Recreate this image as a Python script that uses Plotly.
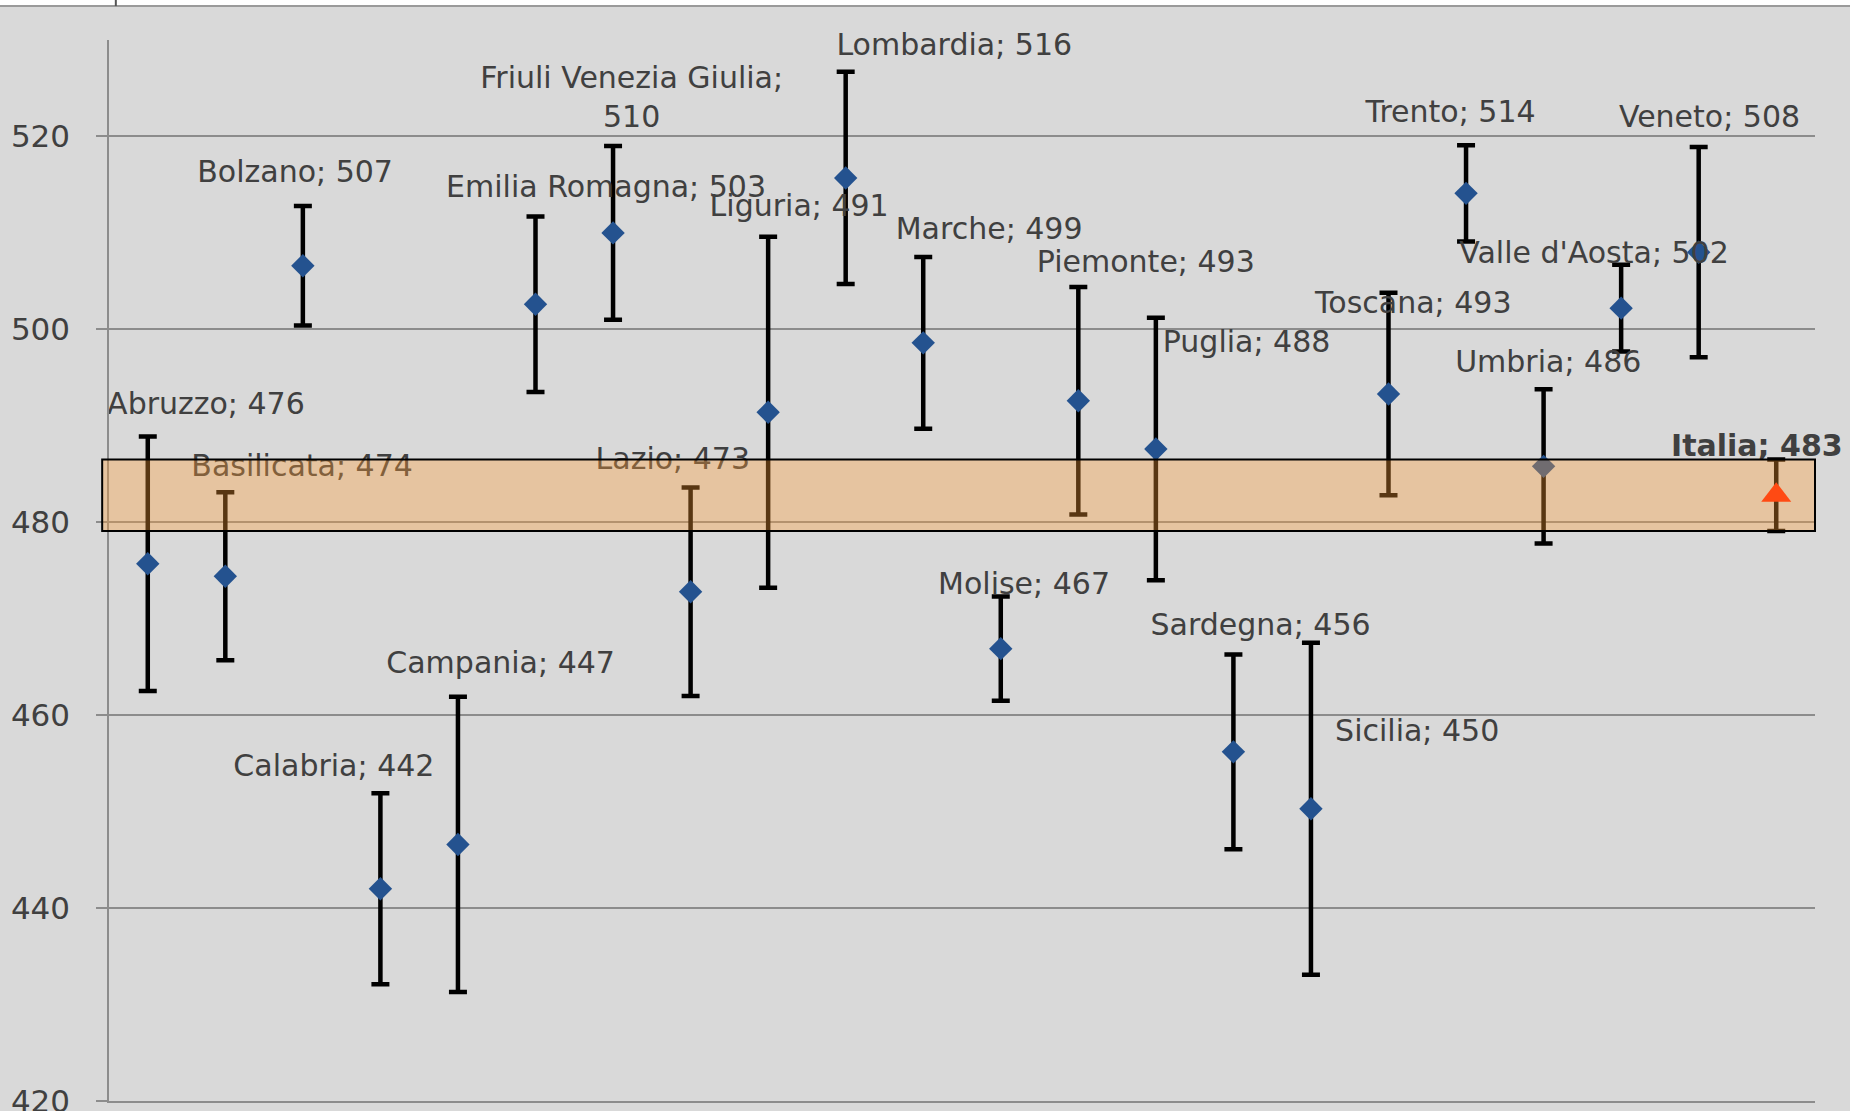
import plotly.graph_objects as go

# regional mean scores with error bars (half width of the interval)
regions = ["Abruzzo", "Basilicata", "Bolzano", "Calabria", "Campania", "Emilia Romagna",
           "Friuli Venezia Giulia", "Lazio", "Liguria", "Lombardia", "Marche", "Molise",
           "Piemonte", "Puglia", "Sardegna", "Sicilia", "Toscana", "Trento", "Umbria",
           "Valle d'Aosta", "Veneto"]
scores = [475.7, 474.4, 506.6, 442.0, 446.6, 502.6, 510.0, 472.8, 491.4, 515.7, 498.6, 466.9,
          492.6, 487.6, 456.2, 450.3, 493.3, 514.1, 485.8, 502.2, 508.0]
errors = [13.2, 8.7, 6.2, 9.9, 15.3, 9.1, 9.0, 10.8, 18.2, 11.0, 8.9, 5.4,
          11.8, 13.6, 10.1, 17.2, 10.5, 5.0, 8.0, 4.5, 10.9]

italia_name = "Italia"
italia_score = 482.8
italia_error = 3.7

# label placement relative to each point (category units, score units)
label_dx = [0.75, 0.99, -0.1, -0.6, 0.55, 0.91, 0.24, -0.23, 0.4, 1.4, 0.85, 0.3,
            0.87, 1.17, 0.35, 1.37, 0.32, -0.2, 0.06, -0.35, 0.14, -0.25]
label_dy = [16.3, 11.2, 9.5, 12.5, 18.5, 11.9, 13.8, 13.5, 21.1, 13.5, 11.5, 6.4,
            14.1, 10.8, 12.9, 7.8, 9.2, 8.2, 10.6, 5.5, 13.8, 4.9]

names = regions + [italia_name]
vals = scores + [italia_score]
xs = list(range(len(names)))

texts = []
for n, v in zip(names, vals):
    if n == "Friuli Venezia Giulia":
        texts.append(f"{n};<br>{round(v)}")
    elif n == italia_name:
        texts.append(f"<b>{n}; {round(v)}</b>")
    else:
        texts.append(f"{n}; {round(v)}")

fig = go.Figure()

fig.add_trace(go.Scatter(
    x=xs[:-1], y=scores, mode="markers",
    marker=dict(symbol="diamond", size=18, color="#24528F"),
    error_y=dict(type="data", array=errors, color="black", thickness=4.5, width=9),
    hoverinfo="skip", showlegend=False))

fig.add_trace(go.Scatter(
    x=[xs[-1]], y=[italia_score], mode="markers",
    marker=dict(symbol="triangle-up", size=26, color="#FF1E00"),
    error_y=dict(type="data", array=[italia_error], color="black", thickness=4.5, width=9),
    hoverinfo="skip", showlegend=False))

fig.add_trace(go.Scatter(
    x=[x + d for x, d in zip(xs, label_dx)],
    y=[v + d for v, d in zip(vals, label_dy)],
    mode="text", text=texts, textposition="middle center",
    textfont=dict(family="DejaVu Sans", size=30, color="#404040"),
    cliponaxis=False, hoverinfo="skip", showlegend=False))

# band = Italian confidence interval
fig.add_shape(type="rect", xref="paper", yref="y",
              x0=-0.004, x1=1.0,
              y0=italia_score - italia_error, y1=italia_score + italia_error,
              fillcolor="rgba(254,157,54,0.35)", line=dict(color="black", width=2),
              layer="above")

# white strip and border at the very top of the picture
fig.add_shape(type="rect", xref="paper", yref="paper", x0=-0.07, x1=1.03, y0=1.032, y1=1.06,
              fillcolor="white", line=dict(width=0), layer="above")
fig.add_shape(type="line", xref="paper", yref="paper", x0=-0.07, x1=1.03, y0=1.032, y1=1.032,
              line=dict(color="#9A9A9A", width=2), layer="above")
fig.add_shape(type="line", xref="paper", yref="paper", x0=0.004, x1=0.004, y0=1.032, y1=1.04,
              line=dict(color="#555555", width=2), layer="above")

fig.update_layout(
    width=1850, height=1111,
    margin=dict(l=109, r=35, t=40, b=10),
    paper_bgcolor="#D9D9D9", plot_bgcolor="#D9D9D9",
    font=dict(family="DejaVu Sans", size=30, color="#404040"),
    xaxis=dict(range=[-0.5, len(names) - 0.5], showticklabels=False, showgrid=False,
               zeroline=False, showline=True, linecolor="#8C8C8C", linewidth=1.5, ticks="",
               automargin=False),
    yaxis=dict(range=[420, 530], tick0=420, dtick=20, showgrid=True, gridcolor="#8C8C8C",
               gridwidth=1.5, zeroline=False, showline=True, linecolor="#8C8C8C", linewidth=1.5,
               ticks="outside", ticklen=11, tickcolor="#8C8C8C", tickwidth=1.5,
               ticklabelstandoff=20, ticklabeloverflow="allow", automargin=False,
               tickfont=dict(family="DejaVu Sans", size=31, color="#404040")),
)

# drop the browser's default page margin so the figure fills the window
fig.write_html("out.html", config={"displayModeBar": False},
               post_script="document.body.style.margin='0';")
